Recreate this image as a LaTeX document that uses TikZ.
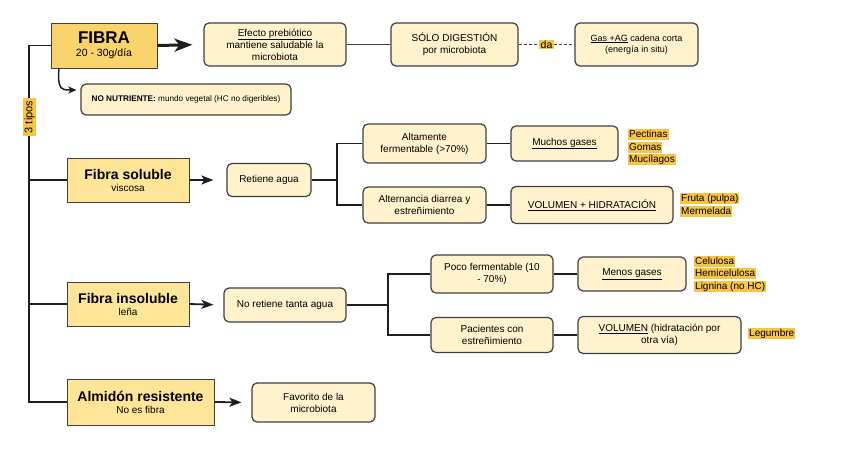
\documentclass[tikz,border=0pt]{standalone}
\usepackage{fontspec}
\setmainfont{Liberation Sans}
\usetikzlibrary{arrows.meta}
\definecolor{fibraC}{HTML}{F9D36B}
\definecolor{tipoC}{HTML}{FFE597}
\definecolor{lightC}{HTML}{FFF2CC}
\definecolor{hlC}{HTML}{F7C444}
\definecolor{borderC}{HTML}{3F3F3F}
\definecolor{lineC}{HTML}{1E1E1E}
\begin{document}
\begin{tikzpicture}[x=1pt,y=-1pt,
  mainbox/.style={draw=borderC, line width=1pt, fill=tipoC, align=center, inner sep=0pt},
  softbox/.style={draw=borderC, line width=1.2pt, fill=lightC, rounded corners=5pt, align=center, inner sep=0pt,
                  font=\fontsize{10}{12}\selectfont},
  hl/.style={fill=hlC, inner xsep=1pt, inner ysep=0pt, text height=8.5pt, text depth=2.5pt, anchor=west,
             font=\fontsize{10}{12}\selectfont},
  trunk/.style={draw=lineC, line width=1.8pt},
  link/.style={draw=lineC, line width=1.8pt},
  arr/.style={draw=lineC, line width=1.8pt, -{Stealth[length=12pt,width=9pt,inset=3pt]}},
  bigarr/.style={draw=lineC, line width=3pt, -{Stealth[length=18pt,width=13pt,inset=5pt]}}
]
\useasboundingbox (0,0) rectangle (848,448);

% main boxes
\node[mainbox, fill=fibraC, minimum width=106pt, minimum height=45pt] (fibra) at (104,45.5)
  {{\fontsize{17}{19}\selectfont\bfseries FIBRA}\\[1pt]{\fontsize{10.5}{12}\selectfont 20 - 30g/día}};
\node[mainbox, minimum width=122pt, minimum height=44pt] (soluble) at (128,180)
  {{\fontsize{14}{16}\selectfont\bfseries Fibra soluble}\\{\fontsize{10}{12}\selectfont viscosa}};
\node[mainbox, minimum width=122pt, minimum height=44pt] (insoluble) at (128,304)
  {{\fontsize{14}{15}\selectfont\bfseries Fibra insoluble}\\{\fontsize{10}{11}\selectfont leña}};
\node[mainbox, minimum width=147pt, minimum height=46pt] (almidon) at (140.5,402)
  {{\fontsize{14}{16}\selectfont\bfseries Almidón resistente}\\{\fontsize{10}{12}\selectfont No es fibra}};

% top row
\node[softbox, minimum width=142pt, minimum height=43pt] (efecto) at (275,44.5)
  {\underline{Efecto prebiótico}\\mantiene saludable la\\microbiota};
\node[softbox, minimum width=127pt, minimum height=43pt] (solo) at (454.5,44.5)
  {SÓLO DIGESTIÓN\\por microbiota};
\node[softbox, minimum width=123pt, minimum height=43pt, font=\fontsize{9}{11.5}\selectfont] (gas) at (636.5,44.5)
  {\underline{Gas +AG} cadena corta\\(energía in situ)};
\node[softbox, minimum width=210pt, minimum height=31pt, font=\fontsize{8.2}{10}\selectfont] (nonutri) at (186,99.5)
  {\textbf{NO NUTRIENTE:} mundo vegetal (HC no digeribles)};

% soluble branch
\node[softbox, minimum width=84pt, minimum height=33pt] (retiene) at (269,180) {Retiene agua};
\node[softbox, minimum width=123pt, minimum height=39pt] (altamente) at (424.5,143.5) {Altamente\\fermentable (>70\%)};
\node[softbox, minimum width=107pt, minimum height=35pt] (muchos) at (564.5,143.5) {\underline{Muchos gases}};
\node[softbox, minimum width=123pt, minimum height=36pt] (alternancia) at (424.5,205) {Alternancia diarrea y\\estreñimiento};
\node[softbox, minimum width=162pt, minimum height=37pt] (volhid) at (592,205) {\underline{VOLUMEN + HIDRATACIÓN}};

% insoluble branch
\node[softbox, minimum width=122pt, minimum height=34pt] (noretiene) at (285,305) {No retiene tanta agua};
\node[softbox, minimum width=122pt, minimum height=38pt] (poco) at (492,274) {Poco fermentable (10\\- 70\%)};
\node[softbox, minimum width=108pt, minimum height=34pt] (menos) at (632,274) {\underline{Menos gases}};
\node[softbox, minimum width=122pt, minimum height=35pt] (pacientes) at (492,335) {Pacientes con\\estreñimiento};
\node[softbox, minimum width=163pt, minimum height=37pt] (volumen) at (659.5,335) {\underline{VOLUMEN} (hidratación por\\otra vía)};

% almidon
\node[softbox, minimum width=123pt, minimum height=39pt] (favorito) at (313.5,402.5) {Favorito de la\\microbiota};

% highlighted labels
\node[hl] (pectinas) at (628,134.5) {Pectinas};
\node[hl] (gomas) at (628,147) {Gomas};
\node[hl] (mucilagos) at (628,159.5) {Mucílagos};
\node[hl] (fruta) at (680,198.5) {Fruta (pulpa)};
\node[hl] (mermelada) at (680,211) {Mermelada};
\node[hl] (celulosa) at (694,261) {Celulosa};
\node[hl] (hemicel) at (694,273.5) {Hemicelulosa};
\node[hl] (lignina) at (694,286) {Lignina (no HC)};
\node[hl] (legumbre) at (748,333.5) {Legumbre};

% trunk
\coordinate (ttop) at (29,45.5);
\draw[trunk] (fibra.west) -- (ttop) |- (almidon.west);
\draw[trunk] (ttop |- soluble.west) -- (soluble.west);
\draw[trunk] (ttop |- insoluble.west) -- (insoluble.west);
\node[fill=hlC, rotate=90, inner xsep=3pt, inner ysep=1pt, font=\fontsize{11}{12}\selectfont] (tipos) at (29.5,117) {3 tipos};

% top connectors
\draw[bigarr, shorten >=11pt] (fibra.east) -- (efecto.west);
\draw[draw=borderC, line width=1pt] (efecto.east) -- (solo.west);
\draw[draw=borderC, line width=1pt, dash pattern=on 3pt off 2pt] (solo.east) --
  node[fill=hlC, inner xsep=1.5pt, inner ysep=1pt, font=\fontsize{10.5}{11}\selectfont] (da) {da} (gas.west);
\coordinate (cstart) at (59,68);
\draw[draw=lineC, line width=1.5pt, -{Stealth[length=8pt,width=7pt,inset=2pt]}, shorten >=4pt]
  (cstart) .. controls (57,90) and (62,90) .. ([yshift=9.5pt]nonutri.west);

% soluble connectors
\draw[arr, shorten >=13pt] (soluble.east) -- (retiene.west);
\coordinate (bs) at (337,180);
\draw[link] (retiene.east) -- (bs);
\draw[link] (altamente.west) -| (bs) |- (alternancia.west);
\draw[link] (altamente.east) -- (muchos.west);
\draw[link] (alternancia.east) -- (volhid.west);

% insoluble connectors
\draw[arr, shorten >=10pt] (insoluble.east) -- (noretiene.west);
\coordinate (bi) at (388,305);
\draw[link] (noretiene.east) -- (bi);
\draw[link] (poco.west) -| (bi) |- (pacientes.west);
\draw[link] (poco.east) -- (menos.west);
\draw[link] (pacientes.east) -- (volumen.west);

% almidon connector
\draw[arr, shorten >=10pt] (almidon.east) -- (favorito.west);
\end{tikzpicture}
\end{document}
